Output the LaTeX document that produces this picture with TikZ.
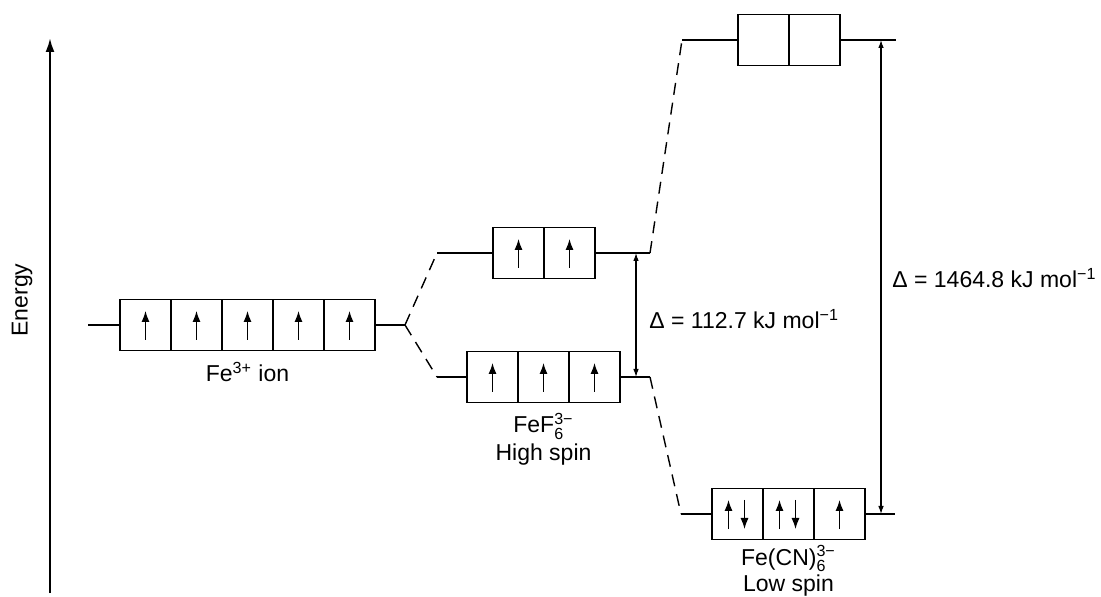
\documentclass[tikz,border=0pt]{standalone}
\usepackage{amsmath}
\usepackage{fontspec}
\setmainfont{Liberation Sans}
\usetikzlibrary{positioning,arrows.meta}

\newcommand{\spinup}[2][0pt]{\draw[spin] ([xshift=#1,yshift=-7.5pt]#2.center) -- ([xshift=#1,yshift=7pt]#2.center);}
\newcommand{\spindn}[2][0pt]{\draw[spin] ([xshift=#1,yshift=7pt]#2.center) -- ([xshift=#1,yshift=-7.5pt]#2.center);}
\newcommand{\ionsub}[2]{$_{\text{#1}}^{\text{#2}}$}

\begin{document}
\begin{tikzpicture}[x=0.5pt,y=-0.5pt,line width=0.7pt,
   every node/.style={font=\fontsize{11.5}{13}\selectfont},
   orb/.style={draw,minimum width=25.5pt,minimum height=25.5pt,inner sep=0pt,outer sep=0pt},
   spin/.style={line width=0.6pt,-{Latex[length=5.5pt,width=4pt]}},
   gap/.style={line width=0.6pt,{Latex[length=4pt,width=2.8pt]}-{Latex[length=4pt,width=2.8pt]}},
   link/.style={dashed,dash pattern=on 6pt off 4pt}]
   \useasboundingbox (0,0) rectangle (1101,597);

   % energy axis
   \coordinate (e0) at (50,593);
   \coordinate (e1) at (50,38);
   \draw[line width=1.1pt,-{Latex[length=7pt,width=4.5pt]}] (e0) -- (e1);
   \node[rotate=90] (elabel) at (22,300) {Energy};

   % free ion
   \node[orb] (a1) at (145.5,325) {};
   \foreach \i [count=\j from 2] in {1,...,4}
      \node[orb,right=0pt of a\i] (a\j) {};
   \coordinate (aL) at (88,325);
   \coordinate (aR) at (405,325);
   \draw (aL) -- (a1.west);
   \draw (a5.east) -- (aR);
   \foreach \i in {1,...,5} {\spinup{a\i}}
   \node[below=2pt of a3] (alabel) {Fe\textsuperscript{3+} ion};

   % FeF6 (high spin)
   \node[orb] (b1) at (518.5,253) {};
   \node[orb,right=0pt of b1] (b2) {};
   \coordinate (bL) at (437,253);
   \coordinate (bR) at (650,253);
   \draw (bL) -- (b1.west);
   \draw (b2.east) -- (bR);
   \spinup{b1} \spinup{b2}

   \node[orb] (c1) at (492.5,377) {};
   \node[orb,right=0pt of c1] (c2) {};
   \node[orb,right=0pt of c2] (c3) {};
   \coordinate (cL) at (437,377);
   \coordinate (cR) at (650,377);
   \draw (cL) -- (c1.west);
   \draw (c3.east) -- (cR);
   \spinup{c1} \spinup{c2} \spinup{c3}
   \node[below=1.5pt of c2,align=center] (clabel) {FeF\ionsub{6}{3−}\\[1pt]High spin};

   % Fe(CN)6 (low spin)
   \node[orb] (d1) at (763.5,40) {};
   \node[orb,right=0pt of d1] (d2) {};
   \coordinate (dL) at (682,40);
   \coordinate (dR) at (896,40);
   \draw (dL) -- (d1.west);
   \draw (d2.east) -- (dR);

   \node[orb] (f1) at (737.5,514) {};
   \node[orb,right=0pt of f1] (f2) {};
   \node[orb,right=0pt of f2] (f3) {};
   \coordinate (fL) at (681,514);
   \coordinate (fR) at (895,514);
   \draw (fL) -- (f1.west);
   \draw (f3.east) -- (fR);
   \spinup[-4.5pt]{f1} \spindn[3.5pt]{f1}
   \spinup[-4.5pt]{f2} \spindn[3.5pt]{f2}
   \spinup{f3}
   \node[below=1.5pt of f2,align=center,inner sep=1pt] (flabel) {Fe(CN)\ionsub{6}{3−}\\[0pt]Low spin};

   % correlation lines
   \draw[link] (aR) -- (bL);
   \draw[link] (aR) -- (cL);
   \draw[link] (bR) -- (dL);
   \draw[link] (cR) -- (fL);

   % splittings
   \coordinate (s1) at (636,253);
   \coordinate (s2) at (636,377);
   \draw[gap] (s1) -- (s2);
   \node[anchor=west] (slabel) at (642,319) {Δ = 112.7 kJ mol\textsuperscript{−1}};

   \coordinate (t1) at (881,40);
   \coordinate (t2) at (881,514);
   \draw[gap] (t1) -- (t2);
   \node[anchor=west] (tlabel) at (885,278) {Δ = 1464.8 kJ mol\textsuperscript{−1}};
\end{tikzpicture}
\end{document}
